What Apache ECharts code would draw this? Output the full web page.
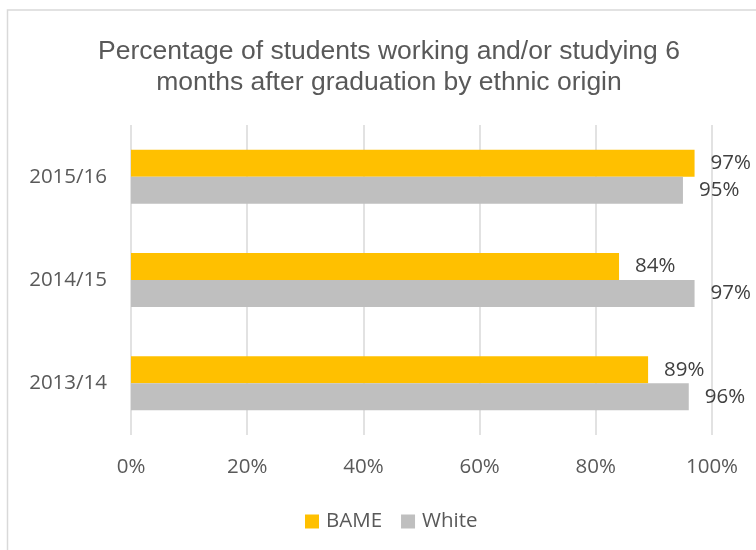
<!DOCTYPE html>
<html>
<head>
<meta charset="utf-8">
<script src="https://cdn.jsdelivr.net/npm/echarts@6/dist/echarts.min.js"></script>
<style>
  html, body { margin: 0; padding: 0; background: #ffffff; }
  #chart { width: 756px; height: 550px; }
</style>
</head>
<body>
<div id="chart"></div>
<script>
// Academic years, top to bottom
const categories = ['2015/16', '2014/15', '2013/14'];
// Share of graduates working and/or studying six months on (%)
const bameValues = [97, 84, 89];
const whiteValues = [95, 97, 96];
const xTicks = [0, 20, 40, 60, 80, 100];

const labelFont = 'Open Sans';
const textGrey = '#595959';

const chart = echarts.init(document.getElementById('chart'));
chart.setOption({
  animation: false,
  backgroundColor: '#ffffff',
  graphic: [{
    type: 'rect',
    shape: { x: 7.5, y: 10, width: 800, height: 600 },
    style: { fill: 'none', stroke: '#d9d9d9', lineWidth: 1.5 },
    silent: true
  }],
  title: {
    text: 'Percentage of students working and/or studying 6\nmonths after graduation by ethnic origin',
    left: 384,
    textAlign: 'center',
    top: 31,
    textStyle: {
      fontFamily: 'Liberation Sans',
      fontSize: 26.5,
      fontWeight: 'normal',
      color: textGrey,
      lineHeight: 31
    }
  },
  legend: {
    left: 300,
    top: 506,
    itemWidth: 14,
    itemHeight: 14,
    itemGap: 19,
    icon: 'rect',
    textStyle: { fontFamily: labelFont, fontSize: 20.5, color: textGrey, padding: [0, 0, 0, 2] },
    data: ['BAME', 'White']
  },
  grid: { left: 131, right: 44, top: 125, height: 310, containLabel: false },
  xAxis: {
    type: 'value',
    min: xTicks[0],
    max: xTicks[xTicks.length - 1],
    interval: xTicks[1] - xTicks[0],
    axisLine: { show: false },
    axisTick: { show: false },
    splitLine: { show: true, lineStyle: { color: '#d9d9d9', width: 1.5 } },
    axisLabel: {
      formatter: '{value}%',
      fontFamily: labelFont,
      fontSize: 20.5,
      color: textGrey,
      margin: 22
    }
  },
  yAxis: {
    type: 'category',
    data: categories,
    inverse: true,
    axisLine: { show: false },
    axisTick: { show: false },
    axisLabel: { fontFamily: labelFont, fontSize: 20.5, color: textGrey, margin: 24 }
  },
  series: [
    {
      name: 'BAME',
      type: 'bar',
      data: bameValues,
      barWidth: 27,
      barGap: '0%',
      itemStyle: { color: '#ffc000' },
      label: {
        show: true, position: 'right', distance: 16,
        formatter: '{c}%', fontFamily: labelFont, fontSize: 20.5, color: '#404040'
      }
    },
    {
      name: 'White',
      type: 'bar',
      data: whiteValues,
      barWidth: 27,
      barGap: '0%',
      itemStyle: { color: '#bfbfbf' },
      label: {
        show: true, position: 'right', distance: 16,
        formatter: '{c}%', fontFamily: labelFont, fontSize: 20.5, color: '#404040'
      }
    }
  ]
});
</script>
</body>
</html>
